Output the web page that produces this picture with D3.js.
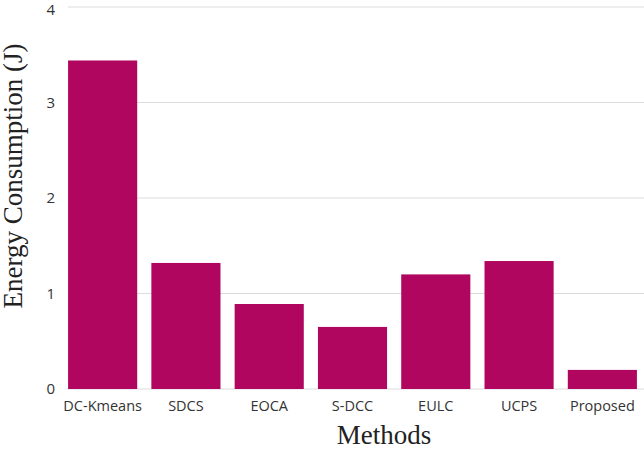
<!DOCTYPE html>
<html><head><meta charset="utf-8">
<script src="https://cdn.jsdelivr.net/npm/d3@7"></script>
<style>body{margin:0;background:#fff}</style>
</head><body><div id="chart"></div>
<script>
const methods = ["DC-Kmeans", "SDCS", "EOCA", "S-DCC", "EULC", "UCPS", "Proposed"];
const energy = [3.44, 1.32, 0.89, 0.65, 1.20, 1.34, 0.20];
const yTicks = [0, 1, 2, 3, 4];

const width = 644, height = 449;
const svg = d3.select("#chart").append("svg").attr("width", width).attr("height", height);

const x = d3.scaleBand().domain(methods).range([61, 644]).paddingInner(0.17).paddingOuter(0.085);
const y = d3.scaleLinear().domain([0, 4]).range([389, 7]);

// gridlines
svg.selectAll("line.grid").data(yTicks).join("line")
    .attr("x1", 68).attr("x2", 644)
    .attr("y1", d => y(d)).attr("y2", d => y(d))
    .attr("stroke", "#dcdcdc").attr("stroke-width", 1);

// bars
svg.selectAll("rect.bar").data(methods).join("rect")
    .attr("x", d => x(d)).attr("width", x.bandwidth())
    .attr("y", (d, i) => y(energy[i]))
    .attr("height", (d, i) => y(0) - y(energy[i]))
    .attr("fill", "#b0065f");

// y tick labels
svg.selectAll("text.ytick").data(yTicks).join("text")
    .attr("x", 55).attr("y", d => Math.max(y(d) + 5, 15))
    .attr("text-anchor", "end")
    .attr("font-family", "Open Sans, sans-serif").attr("font-size", 15).attr("fill", "#333")
    .text(d => d);

// x tick labels
svg.selectAll("text.xtick").data(methods).join("text")
    .attr("x", d => x(d) + x.bandwidth() / 2).attr("y", 411)
    .attr("text-anchor", "middle")
    .attr("font-family", "Open Sans, sans-serif").attr("font-size", 14.5).attr("fill", "#333")
    .text(d => d);

// axis titles
svg.append("text").attr("x", 384).attr("y", 444)
    .attr("text-anchor", "middle")
    .attr("font-family", "Liberation Serif, serif").attr("font-size", 27).attr("fill", "#222")
    .text("Methods");

svg.append("text").attr("transform", "translate(22,176) rotate(-90)")
    .attr("text-anchor", "middle")
    .attr("font-family", "Liberation Serif, serif").attr("font-size", 27).attr("fill", "#222")
    .text("Energy Consumption (J)");
</script></body></html>
